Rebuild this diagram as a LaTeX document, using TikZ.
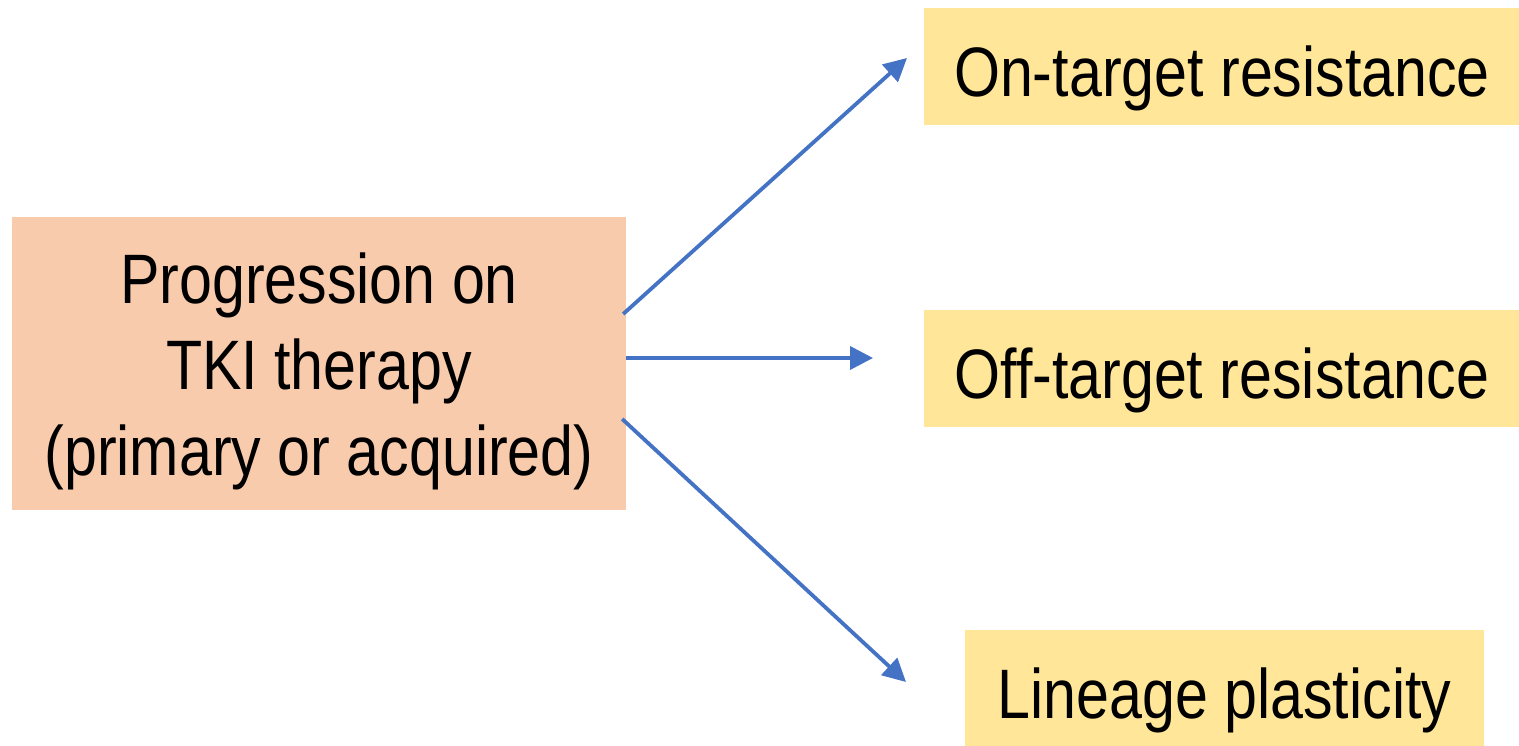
\documentclass[tikz,border=0pt]{standalone}
\usepackage{fontspec}
\setmainfont{Liberation Sans}[FakeStretch=0.845]
\usetikzlibrary{arrows.meta}

\definecolor{causefill}{HTML}{F8CBAD}
\definecolor{outcomefill}{HTML}{FFE699}
\definecolor{arrowblue}{HTML}{4472C4}

\tikzset{
  bigtext/.style={font=\fontsize{70pt}{86pt}\selectfont},
  causebox/.style={rectangle, fill=causefill, inner sep=0pt,
    minimum width=614pt, minimum height=293pt},
  outcomebox/.style={rectangle, fill=outcomefill, inner sep=0pt,
    minimum height=117pt, text height=60pt, text depth=0pt, bigtext},
  branch/.style={draw=arrowblue, line width=3.8pt,
    -{Triangle[length=23pt, width=23pt]}}
}

\begin{document}
\begin{tikzpicture}[x=1pt, y=-1pt]
  \useasboundingbox (0,0) rectangle (1519,746);

  % source box and its three-line caption
  \node[causebox] (cause) at (319,363.5) {};
  \node[bigtext, align=center, text depth=0pt, inner sep=0pt]
    (causetext) at (319,364) {Progression on\\TKI therapy\\(primary or acquired)};

  % the three resistance mechanisms
  \node[outcomebox, minimum width=597pt] (ontarget) at (1222,66.5) {On-target resistance};
  \node[outcomebox, minimum width=597pt] (offtarget) at (1222,368.5) {Off-target resistance};
  \node[outcomebox, minimum width=519pt] (lineage) at (1224.5,688) {Lineage plasticity};

  % arrow tips
  \coordinate (tipon) at (907,58);
  \coordinate (tipoff) at (873,358);
  \coordinate (tiplin) at (906,682);

  \draw[branch] ([yshift=49.5pt, xshift=-3pt]cause.east) -- (tipon);
  \draw[branch] ([yshift=5.5pt]cause.east) -- (tipoff);
  \draw[branch] ([yshift=-55.5pt, xshift=-4pt]cause.east) -- (tiplin);
\end{tikzpicture}
\end{document}
